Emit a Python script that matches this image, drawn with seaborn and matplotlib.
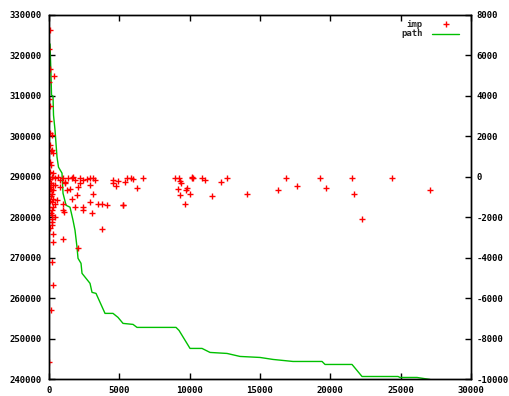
import matplotlib
matplotlib.use("Agg")
import matplotlib.pyplot as plt
import seaborn as sns

# Best tour length over time (left axis)
path_x = [0, 71, 142, 178, 284, 320, 427, 569, 675, 924, 995, 1209, 1493, 1706,
          1848, 1991, 2062, 2275, 2346, 2915, 3057, 3341, 3981, 4550, 4905, 5261,
          5972, 6256, 9028, 9242, 10024, 10877, 11446, 12654, 13578, 15000, 15924,
          17346, 19408, 19621, 21540, 22251, 24810, 24952, 26161, 27085]
path_y = [322830, 322830, 315170, 310220, 309970, 305280, 301570, 294890, 292420,
          290940, 285990, 283020, 282530, 279320, 276840, 272640, 269920, 268680,
          266210, 263740, 261510, 261260, 256320, 256320, 255330, 253850, 253600,
          252860, 252860, 252120, 247670, 247670, 246680, 246430, 245690, 245440,
          244950, 244450, 244450, 243710, 243710, 240740, 240740, 240500, 240500,
          240000]

# Individual improvements (right axis)
imp_x = [71, 21, 71, 355, 21, 21, 71, 21, 71, 71, 142, 71, 142, 71, 284,
         192, 192, 263,
         192, 427, 661, 782, 1017, 1137, 1372, 1614, 1727, 1848, 2204, 2438,
         2680, 2915, 3149, 3270, 427, 782, 1137, 1258, 1493, 2204, 2083, 2915,
         3149, 1969, 1614, 306, 192, 306, 547, 1017, 2915, 3746,
         192, 427, 306, 192, 192, 427, 192, 192, 192, 1017, 1066, 1848, 2438,
         2438, 3036, 3505, 4102, 5239, 3746, 306, 1017, 306, 2040, 192, 263,
         142, 21,
         71, 142, 71, 21, 142, 71, 263, 21, 142, 71, 142, 21,
         4571, 4571, 4927, 4763, 5403, 5566, 5808, 5950, 6277, 6704, 5239,
         8957, 9263, 9313, 9405, 9192, 9832, 9739, 9313, 10024, 9668, 10145,
         10180, 10216, 10856, 11090, 11567, 12206, 12633, 14055, 16244, 16848,
         17609, 19265, 19692, 21519, 21683, 22230, 24405, 27085]
imp_y = [7258, 6319, 5330, 4984, 4687, 3846, 3500, 2758, 2165, 1571, 1275, 731,
         582, 236, 187,
         2066, 1324, 1161,
         4, -75, 4, -159, -75, -243, -75, -75, 4, -159, -75, -159,
         -110, -75, -40, -159, -407, -489, -322, -654, -570, -322, -489, -407,
         -817, -901, -1064, -654, -817, -1064, -1148, -1311, -1232, -1311,
         -1232, -1311, -1480, -1643, -1890, -1974, -2053, -2221, -2385, -1643,
         -1727, -1480, -1480, -1643, -1776, -1346, -1396, -1396, -2583, -2795,
         -3077, -3211, -3507, -4200, -5317,
         -6554, -9145,
         -100, -300, -500, -700, -950, -1200, -400, -1500, -1800, -2500, -600,
         -300,
         -159, -322, -187, -456, -243, -26, -75, -110, -520, -26, -1361,
         -26, -26, -187, -322, -570, -520, -619, -867, -817, -1311, -26,
         -10, -75, -75, -159, -936, -243, -26, -817, -654, -75,
         -456, -26, -520, -26, -817, -2088, -75, -619]

x_ticks = list(range(0, 30001, 5000))
left_ticks = list(range(240000, 330001, 10000))
right_ticks = list(range(-10000, 8001, 2000))

sns.set_theme(style="white")
plt.rcParams["font.family"] = ["DejaVu Sans Mono"]
plt.rcParams["font.weight"] = "bold"

FS = 6.5

fig = plt.figure(figsize=(5.10, 3.96), dpi=100)
ax = fig.add_axes([0.0961, 0.0417, 0.8275, 0.9205])
ax2 = ax.twinx()

sns.lineplot(x=path_x, y=path_y, ax=ax, color="#00c000", linewidth=1,
             estimator=None, sort=False)
sns.scatterplot(x=imp_x, y=imp_y, ax=ax2, marker="+", color="#ff0000",
                s=25, linewidth=1)

ax.set_xlim(0, 30000)
ax.set_ylim(240000, 330000)
ax2.set_ylim(-10000, 8000)

ax.set_xticks(x_ticks)
ax.set_yticks(left_ticks)
ax2.set_yticks(right_ticks)
ax.set_xticklabels([str(v) for v in x_ticks])
ax.set_yticklabels([str(v) for v in left_ticks])
ax2.set_yticklabels([str(v) for v in right_ticks])

ax.tick_params(axis="x", direction="in", length=4, width=1, bottom=True,
               top=True, labelsize=FS, pad=5, colors="black")
ax.tick_params(axis="y", direction="in", length=4, width=1, left=True,
               right=False, labelsize=FS, pad=5, colors="black")
ax2.tick_params(axis="y", direction="in", length=4, width=1, right=True,
                left=False, labelsize=FS, pad=4, colors="black")

for a in (ax, ax2):
    for sp in a.spines.values():
        sp.set_color("black")
        sp.set_linewidth(1)
    a.set_xlabel("")
    a.set_ylabel("")
    a.grid(False)

# key in the upper right corner
ax2.text(0.886, 0.975, "imp", transform=ax2.transAxes, ha="right",
         va="center", fontsize=FS, fontweight="bold")
ax2.text(0.886, 0.948, "path", transform=ax2.transAxes, ha="right",
         va="center", fontsize=FS, fontweight="bold")
ax2.plot([0.941], [0.975], transform=ax2.transAxes, marker="+",
         color="#ff0000", markersize=5, markeredgewidth=1, linestyle="none")
ax2.plot([0.908, 0.972], [0.948, 0.948], transform=ax2.transAxes,
         color="#00c000", linewidth=1)

fig.savefig("out.png", dpi=100)
